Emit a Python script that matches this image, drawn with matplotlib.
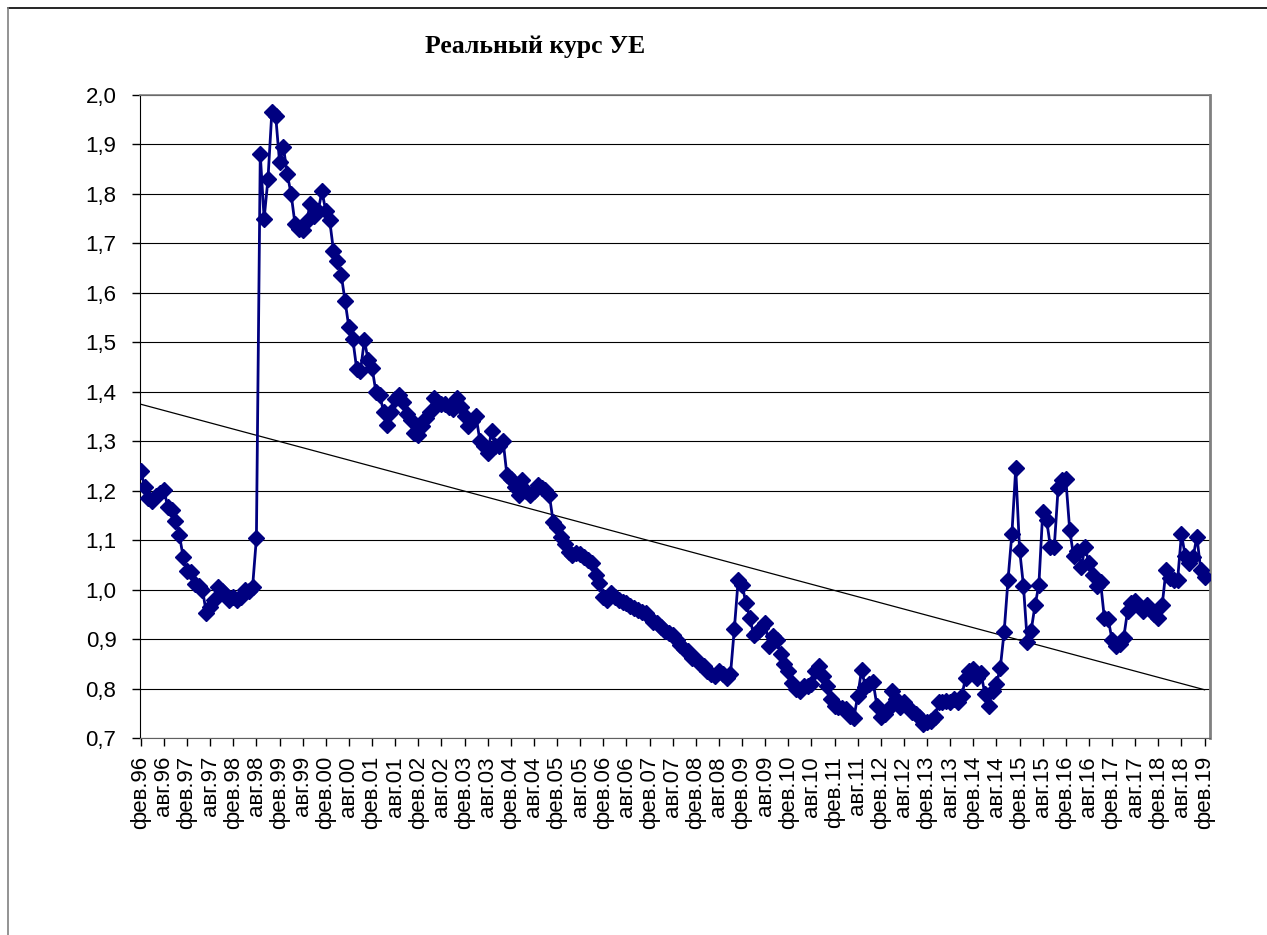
import numpy as np
import matplotlib
matplotlib.use("Agg")
import matplotlib.pyplot as plt
from matplotlib.lines import Line2D
from matplotlib.ticker import FuncFormatter, FixedLocator

# monthly data, Feb 1996 .. Feb 2019
rate = [
    1.240, 1.208, 1.185, 1.180, 1.190, 1.195, 1.202, 1.167, 1.160, 1.139, 1.111, 1.066,  # 96-97
    1.038, 1.035, 1.012, 1.008, 1.000, 0.953, 0.965, 0.980, 1.005, 0.997, 0.990, 0.979,
    0.986, 0.979, 0.985, 1.000, 0.997, 1.005, 1.104, 1.880, 1.750, 1.830, 1.965, 1.958,
    1.865, 1.895, 1.840, 1.800, 1.740, 1.730, 1.728, 1.745, 1.780, 1.755, 1.765, 1.805,
    1.766, 1.747, 1.685, 1.665, 1.637, 1.583, 1.530, 1.507, 1.447, 1.442, 1.504, 1.464,
    1.449, 1.400, 1.393, 1.360, 1.333, 1.360, 1.385, 1.393, 1.380, 1.356, 1.343, 1.316,
    1.313, 1.330, 1.346, 1.360, 1.387, 1.376, 1.376, 1.376, 1.370, 1.366, 1.387, 1.370,
    1.350, 1.330, 1.340, 1.350, 1.300, 1.290, 1.276, 1.320, 1.290, 1.290, 1.301, 1.231,
    1.224, 1.207, 1.191, 1.221, 1.200, 1.191, 1.200, 1.211, 1.205, 1.201, 1.191, 1.137,
    1.127, 1.107, 1.093, 1.077, 1.070, 1.075, 1.073, 1.066, 1.060, 1.053, 1.030, 1.013,
    0.986, 0.979, 0.993, 0.985, 0.979, 0.975, 0.972, 0.966, 0.963, 0.959, 0.955, 0.952,
    0.942, 0.935, 0.933, 0.925, 0.916, 0.912, 0.909, 0.899, 0.889, 0.880, 0.876, 0.862,
    0.859, 0.850, 0.846, 0.836, 0.830, 0.826, 0.836, 0.829, 0.822, 0.829, 0.921, 1.020,
    1.010, 0.973, 0.943, 0.909, 0.915, 0.923, 0.933, 0.886, 0.906, 0.899, 0.869, 0.850,
    0.836, 0.812, 0.800, 0.795, 0.805, 0.805, 0.809, 0.836, 0.846, 0.825, 0.805, 0.779,
    0.765, 0.762, 0.760, 0.758, 0.745, 0.740, 0.785, 0.837, 0.804, 0.810, 0.813, 0.765,
    0.742, 0.749, 0.760, 0.795, 0.779, 0.762, 0.772, 0.762, 0.752, 0.748, 0.742, 0.729,
    0.732, 0.735, 0.742, 0.772, 0.772, 0.775, 0.772, 0.779, 0.772, 0.785, 0.822, 0.835,
    0.839, 0.822, 0.831, 0.789, 0.765, 0.795, 0.809, 0.842, 0.915, 1.020, 1.112, 1.245,
    1.081, 1.008, 0.895, 0.917, 0.968, 1.009, 1.156, 1.141, 1.087, 1.086, 1.205, 1.222,
    1.223, 1.121, 1.068, 1.079, 1.046, 1.086, 1.053, 1.030, 1.007, 1.016, 0.942, 0.940,
    0.898, 0.886, 0.890, 0.902, 0.956, 0.972, 0.976, 0.966, 0.956, 0.969, 0.959, 0.950,
    0.942, 0.969, 1.040, 1.023, 1.020, 1.020, 1.112, 1.067, 1.053, 1.065, 1.107, 1.040,
    1.026,
]

years = ['96', '97', '98', '99', '00', '01', '02', '03', '04', '05', '06', '07',
         '08', '09', '10', '11', '12', '13', '14', '15', '16', '17', '18', '19']
tick_labels = []
for y in years:
    tick_labels.append('фев.' + y)
    if y != '19':
        tick_labels.append('авг.' + y)

x = np.arange(len(rate))
trend = np.poly1d(np.polyfit(x, rate, 1))

fig = plt.figure(figsize=(12.67, 9.35), dpi=100)
ax = fig.add_axes([0.1105, 0.2107, 0.8445, 0.6877])

ax.grid(axis='y', color='black', linewidth=0.8, zorder=0)
ax.plot(x, trend(x), color='black', linewidth=0.9, zorder=2)
ax.plot(x, rate, color='#000080', linewidth=2.0, marker='D', markersize=8.5,
        markerfacecolor='#000080', markeredgecolor='#000080', zorder=3)

ax.set_xlim(-0.2, 277.4)
ax.set_ylim(0.7, 2.0)
ax.set_yticks(np.arange(0.7, 2.001, 0.1))
ax.yaxis.set_major_formatter(FuncFormatter(lambda v, p: f"{v:.1f}".replace('.', ',')))
ax.xaxis.set_major_locator(FixedLocator(np.arange(0, len(rate), 6)))
ax.set_xticklabels(tick_labels, rotation=90)

ax.tick_params(axis='both', direction='out', length=6, width=1, colors='black',
               labelsize=16)
ax.tick_params(axis='y', pad=11)
ax.tick_params(axis='x', pad=7)
for lab in ax.get_xticklabels() + ax.get_yticklabels():
    lab.set_fontfamily('Liberation Sans')

ax.spines['left'].set_color('black')
ax.spines['bottom'].set_color('#606060')
ax.spines['top'].set_color('#808080')
ax.spines['right'].set_color('#808080')
ax.spines['right'].set_linewidth(2)
ax.spines['top'].set_linewidth(1.2)

fig.text(0.422, 0.950, 'Реальный курс УЕ', ha='center', va='center',
         fontsize=18.5, fontweight='bold', family='Liberation Serif')

# outer chart border
fig.add_artist(Line2D([8 / 1267, 1.0], [1 - 8 / 935, 1 - 8 / 935],
                      transform=fig.transFigure, color='black', linewidth=1.2))
fig.add_artist(Line2D([8 / 1267, 8 / 1267], [0.0, 1 - 8 / 935],
                      transform=fig.transFigure, color='#808080', linewidth=1.2))

fig.savefig('out.png', dpi=100)
